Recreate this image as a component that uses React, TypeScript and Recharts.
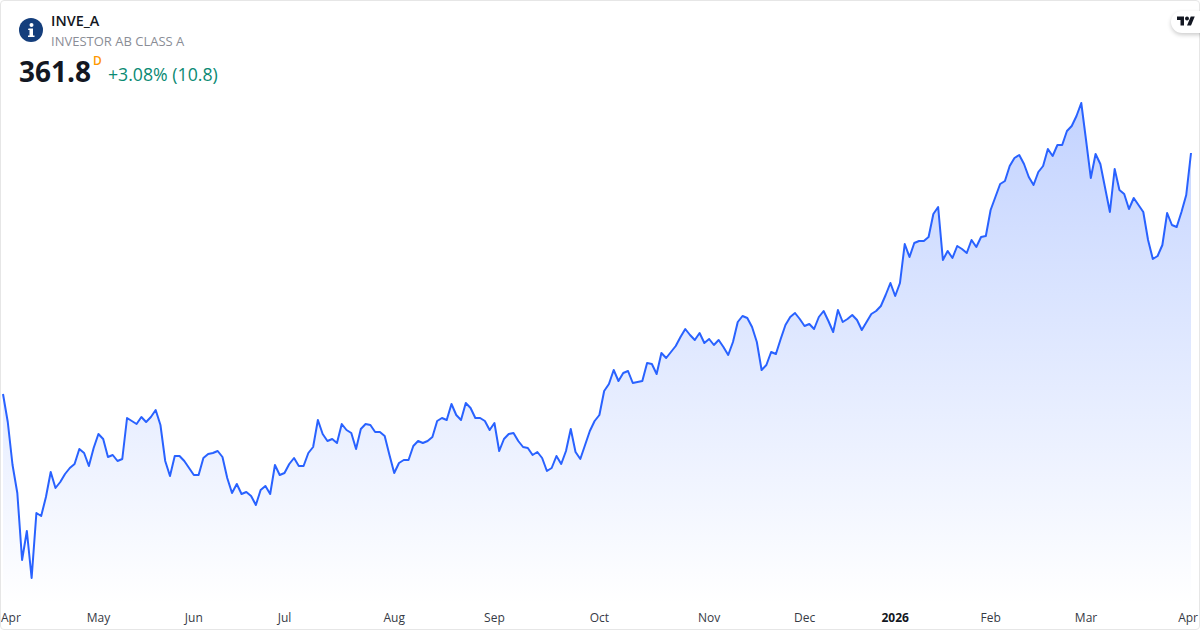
import React from "react";
import { ComposedChart, Area, XAxis, YAxis } from "recharts";

const closes: number[] = [
  301.55, 294.55, 283.8, 276.8, 260.05, 267.3, 255.55, 271.8, 271.05, 275.8,
  282.05, 278.05, 279.55, 281.55, 283.05, 284.05, 287.8, 286.8, 283.55, 288.05,
  291.55, 290.3, 285.8, 286.3, 284.8, 285.3, 295.55, 294.8, 294.05, 295.8,
  294.55, 295.8, 297.55, 293.8, 284.8, 281.05, 286.05, 286.05, 284.8, 283.05,
  281.3, 281.3, 285.55, 286.55, 286.8, 287.3, 285.8, 280.55, 276.8, 279.05,
  276.55, 277.05, 276.05, 273.8, 277.55, 278.55, 276.55, 283.8, 281.3, 281.8,
  284.05, 285.55, 283.55, 283.55, 286.8, 288.3, 295.05, 291.55, 289.8, 290.3,
  289.3, 294.05, 292.55, 291.8, 287.8, 292.8, 294.05, 293.8, 292.05, 292.05,
  291.05, 286.3, 281.8, 284.3, 285.05, 285.05, 288.55, 289.8, 289.3, 289.8,
  290.8, 294.8, 295.55, 295.05, 299.05, 296.3, 295.05, 299.3, 298.05, 295.55,
  295.55, 294.8, 292.55, 294.3, 287.3, 290.3, 291.55, 291.8, 289.8, 288.3,
  288.05, 286.3, 287.05, 285.55, 282.3, 283.05, 286.05, 284.05, 287.3, 292.8,
  287.05, 285.3, 288.8, 292.3, 294.8, 296.3, 302.3, 304.05, 307.55, 304.8,
  306.8, 307.3, 304.3, 304.55, 304.8, 309.3, 309.05, 306.55, 311.8, 310.55,
  312.05, 313.55, 315.8, 317.8, 316.3, 315.05, 316.8, 314.3, 315.3, 313.8,
  315.05, 313.3, 311.3, 314.55, 319.55, 321.05, 320.55, 318.3, 314.55, 307.55,
  308.8, 312.05, 311.55, 315.3, 318.8, 320.8, 321.8, 320.3, 318.55, 319.05,
  317.8, 320.8, 322.3, 319.8, 317.05, 322.55, 319.55, 320.3, 321.3, 320.05,
  317.55, 319.55, 321.55, 322.3, 323.55, 326.3, 329.3, 326.05, 329.3, 339.05,
  335.8, 339.3, 339.8, 339.8, 340.8, 346.55, 348.3, 335.05, 337.3, 335.55,
  338.55, 337.8, 336.8, 340.05, 338.3, 340.8, 341.05, 347.55, 350.8, 354.05,
  354.8, 358.55, 360.55, 361.3, 359.05, 355.8, 353.8, 357.05, 358.55, 362.8,
  361.05, 363.8, 363.8, 367.3, 368.55, 371.05, 374.3, 365.05, 355.55, 361.55,
  359.05, 353.05, 347.05, 357.8, 352.55, 351.55, 347.8, 350.55, 348.8, 347.05,
  340.05, 335.3, 336.05, 338.8, 346.8, 343.8, 343.3, 347.05, 351.3, 361.8,
];

const tickLabels: string[] = ["Apr", "May", "Jun", "Jul", "Aug", "Sep", "Oct", "Nov", "Dec", "2026", "Feb", "Mar", "Apr"];
const tickBars: number[] = [0, 20, 40, 59, 82, 103, 125, 148, 168, 187, 207, 227, 249];

const symbol = "INVE_A";
const companyName = "INVESTOR AB CLASS A";
const lastPrice = "361.8";
const priceChange = "+3.08% (10.8)";
const intervalMark = "D";

const rows = closes.map((close, bar) => ({ bar, close }));
const FONT = '"Open Sans", sans-serif';

function MonthTick(props: any) {
  const { x, y, payload, index } = props;
  const bar = payload.value as number;
  const pos = tickBars.indexOf(bar);
  const label = tickLabels[pos];
  const first = index === 0;
  const last = pos === tickLabels.length - 1;
  return (
    <text
      x={first ? x - 2 : last ? x + 7 : x}
      y={y + 11}
      textAnchor={first ? "start" : last ? "end" : "middle"}
      fontFamily={FONT}
      fontSize={12}
      fontWeight={label === "2026" ? 700 : 400}
      fill={label === "2026" ? "#131722" : "#363a45"}
    >
      {label}
    </text>
  );
}

export default function App() {
  return (
    <div style={{ position: "absolute", left: 0, top: 0, width: 1200, height: 630, background: "#fff", overflow: "hidden", fontFamily: FONT }}>
      <ComposedChart width={1200} height={630} data={rows} margin={{ top: 0, right: 9, bottom: 0, left: 3 }}>
        <defs>
          <linearGradient id="areaFill" x1="0" y1="0" x2="0" y2="1">
            <stop offset="0%" stopColor="#2962ff" stopOpacity={0.28} />
            <stop offset="100%" stopColor="#2962ff" stopOpacity={0} />
          </linearGradient>
        </defs>
        <XAxis
          dataKey="bar"
          type="number"
          domain={[0, 249]}
          ticks={tickBars}
          interval={0}
          height={25}
          axisLine={false}
          tickLine={false}
          tickMargin={0}
          tick={MonthTick}
        />
        <YAxis hide domain={[248.8, 400.05]} />
        <Area
          type="linear"
          dataKey="close"
          stroke="#2962ff"
          strokeWidth={2}
          strokeLinejoin="round"
          fill="url(#areaFill)"
          fillOpacity={1}
          dot={false}
          activeDot={false}
          isAnimationActive={false}
        />
      </ComposedChart>

      <div style={{ position: "absolute", left: 0, top: 0, width: 1198, height: 628, border: "1px solid #e6e6e6", borderRadius: 4, pointerEvents: "none" }} />

      <svg width={24} height={24} viewBox="0 0 24 24" style={{ position: "absolute", left: 19, top: 18 }}>
        <circle cx={12} cy={12} r={12} fill="#143e7c" />
        <circle cx={12.5} cy={7} r={2} fill="#fff" />
        <path d="M9.5 10.5h4.5v7h1.5v1.5h-6.5v-1.5h1.5v-5.5h-1.5z" fill="#fff" />
      </svg>

      <div style={{ position: "absolute", left: 51, top: 11, fontSize: 14.4, fontWeight: 600, lineHeight: "20px", color: "#131722" }}>{symbol}</div>
      <div style={{ position: "absolute", left: 51, top: 31.5, fontSize: 13, lineHeight: "18px", color: "#8a8d96" }}>{companyName}</div>
      <div style={{ position: "absolute", left: 19, top: 52, fontSize: 28, fontWeight: 700, lineHeight: "38px", color: "#131722" }}>{lastPrice}</div>
      <div style={{ position: "absolute", left: 93, top: 53, fontSize: 12, fontWeight: 600, lineHeight: "16px", color: "#ff9800" }}>{intervalMark}</div>
      <div style={{ position: "absolute", left: 108, top: 62, fontSize: 17.7, lineHeight: "24px", color: "#0a8a73" }}>{priceChange}</div>

      <div style={{ position: "absolute", left: 1171, top: 11, width: 40, height: 22, background: "#fff", borderRadius: 11, boxShadow: "0 2px 4px rgba(0,0,0,0.2)" }} />
      <svg width={18} height={10} viewBox="0 3 36 20" style={{ position: "absolute", left: 1177, top: 15.5 }}>
        <path d="M14 22H7V11H0V4h14v18zM28 22h-8l7.5-18h8L28 22z" fill="#131722" />
        <circle cx={20} cy={8} r={4} fill="#131722" />
      </svg>
    </div>
  );
}
